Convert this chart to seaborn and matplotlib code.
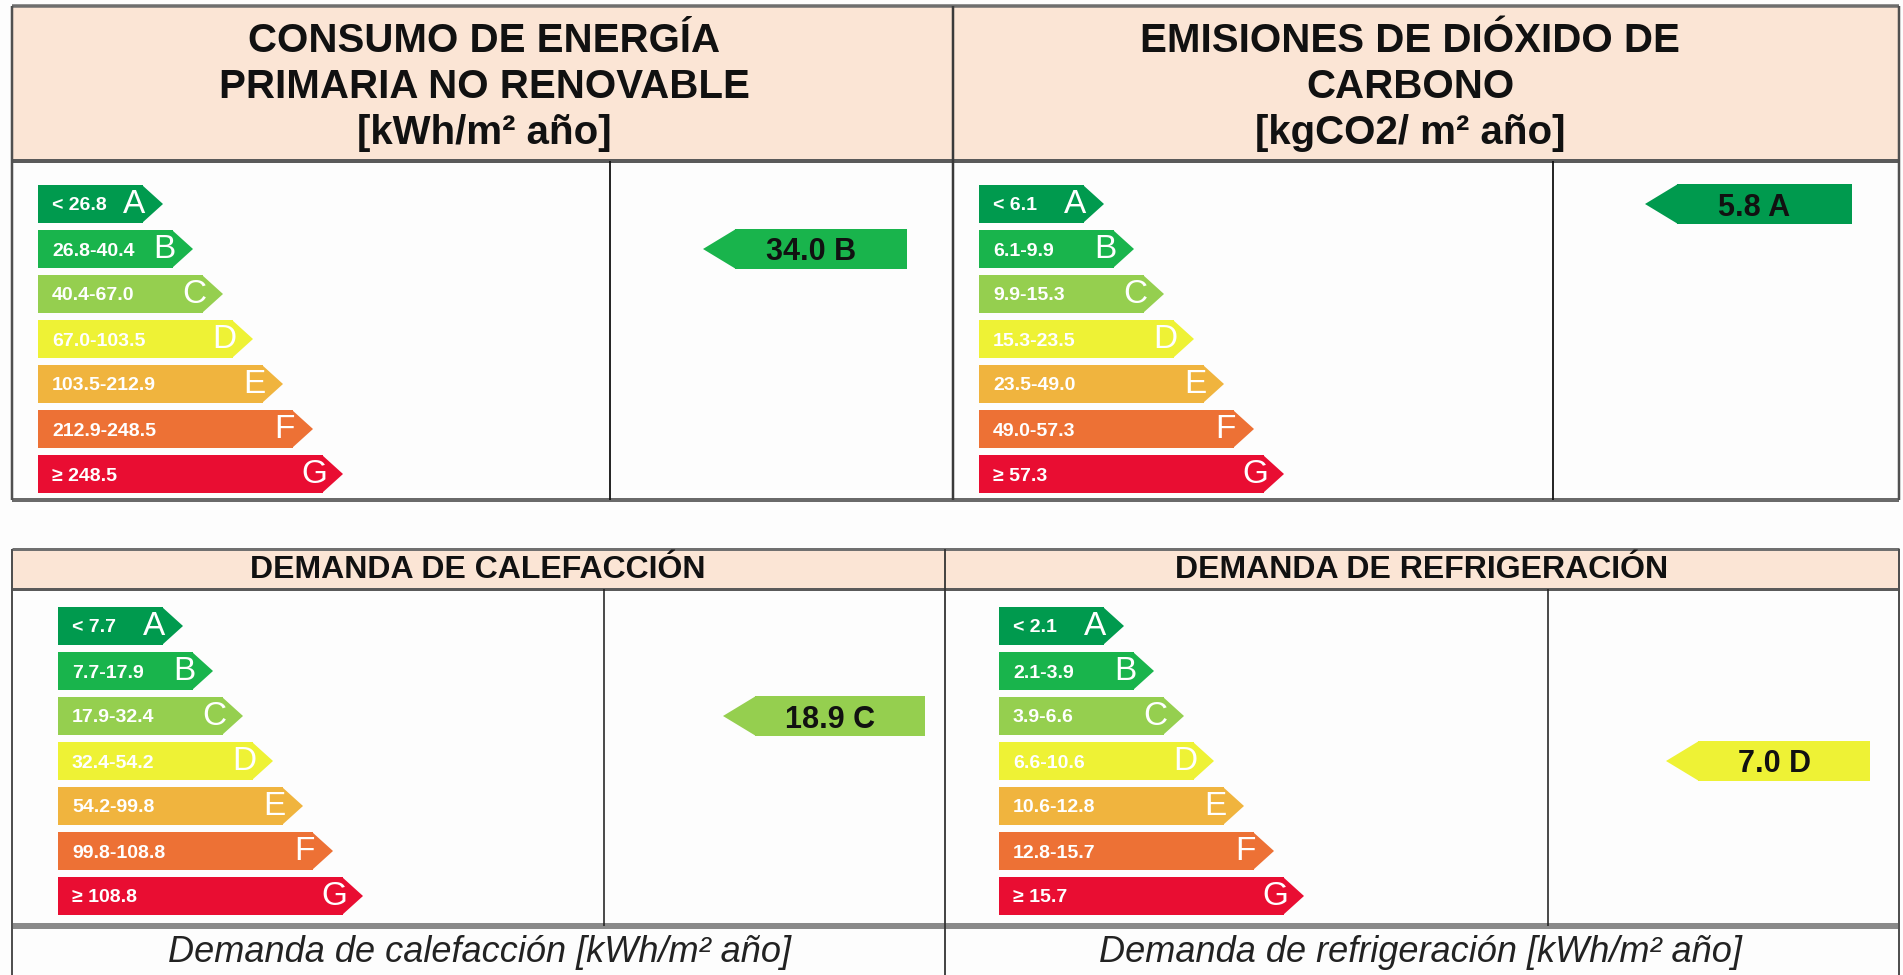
import matplotlib.pyplot as plt
from matplotlib.patches import Polygon, Rectangle
import pandas as pd
import seaborn as sns

sns.set_theme(style="white")
plt.rcParams["font.family"] = ["Liberation Sans", "DejaVu Sans"]

# energy classes and the usual label palette
classes = ["A", "B", "C", "D", "E", "F", "G"]
class_colors = ["#009a4e", "#19b44c", "#95cf4f", "#eef235", "#f0b43e", "#ed7135", "#e90d32"]

primary_ranges = ["< 26.8", "26.8-40.4", "40.4-67.0", "67.0-103.5", "103.5-212.9", "212.9-248.5", "≥ 248.5"]
co2_ranges = ["< 6.1", "6.1-9.9", "9.9-15.3", "15.3-23.5", "23.5-49.0", "49.0-57.3", "≥ 57.3"]
heating_ranges = ["< 7.7", "7.7-17.9", "17.9-32.4", "32.4-54.2", "54.2-99.8", "99.8-108.8", "≥ 108.8"]
cooling_ranges = ["< 2.1", "2.1-3.9", "3.9-6.6", "6.6-10.6", "10.6-12.8", "12.8-15.7", "≥ 15.7"]

primary_value, primary_class = 34.0, "B"
co2_value, co2_class = 5.8, "A"
heating_value, heating_class = 18.9, "C"
cooling_value, cooling_class = 7.0, "D"

title_primary = "CONSUMO DE ENERGÍA\nPRIMARIA NO RENOVABLE\n[kWh/m² año]"
title_co2 = "EMISIONES DE DIÓXIDO DE\nCARBONO\n[kgCO2/ m² año]"
title_heating = "DEMANDA DE CALEFACCIÓN"
title_cooling = "DEMANDA DE REFRIGERACIÓN"
footer_heating = "Demanda de calefacción [kWh/m² año]"
footer_cooling = "Demanda de refrigeración [kWh/m² año]"

W, H = 1903, 975
HEADER_BG = "#fbe5d5"

fig = plt.figure(figsize=(W / 100, H / 100), dpi=100, facecolor="#fdfdfd")
bg = fig.add_axes([0, 0, 1, 1])
bg.set_xlim(0, W)
bg.set_ylim(H, 0)
bg.axis("off")


def hline(y, x0, x1, px, color):
    bg.plot([x0, x1], [y, y], lw=px * 0.72, color=color, solid_capstyle="butt")


def vline(x, y0, y1, px, color):
    bg.plot([x, x], [y0, y1], lw=px * 0.72, color=color, solid_capstyle="butt")


# table frames
bg.add_patch(Rectangle((12, 6), 1887, 155, facecolor=HEADER_BG, lw=0))
bg.add_patch(Rectangle((12, 549), 1887, 40, facecolor=HEADER_BG, lw=0))

hline(6, 12, 1899, 3.5, "#6e6e6e")
hline(161, 12, 1899, 4, "#5a5a5a")
hline(500, 12, 1899, 4, "#6a6a6a")
vline(12, 6, 500, 2.5, "#505050")
vline(1899, 6, 500, 2.5, "#505050")
vline(953, 6, 500, 2.5, "#3a3a3a")
vline(610, 161, 500, 1.8, "#111111")
vline(1553, 161, 500, 1.8, "#111111")

hline(549, 12, 1899, 3, "#707070")
hline(589, 12, 1899, 3, "#5a5a5a")
hline(926, 12, 1899, 6, "#8a8a8a")
vline(12, 549, 975, 2, "#505050")
vline(1899, 549, 975, 2, "#505050")
vline(945, 549, 975, 1.8, "#333333")
vline(604, 589, 926, 1.6, "#222222")
vline(1548, 589, 926, 1.6, "#222222")

bg.text(484, 87, title_primary, ha="center", va="center", fontsize=29, fontweight="bold",
        linespacing=1.27, color="#111111")
bg.text(1410, 87, title_co2, ha="center", va="center", fontsize=29, fontweight="bold",
        linespacing=1.27, color="#111111")
bg.text(478, 570, title_heating, ha="center", va="center", fontsize=23, fontweight="bold", color="#111111")
bg.text(1422, 570, title_cooling, ha="center", va="center", fontsize=23, fontweight="bold", color="#111111")
bg.text(479, 953, footer_heating, ha="center", va="center", fontsize=26, style="italic", color="#222222")
bg.text(1420, 953, footer_cooling, ha="center", va="center", fontsize=26, style="italic", color="#222222")


def draw_panel(x0, row_top, tip_x, end_x, ranges, value, rating):
    row_h, bar_h, val_h = 45, 38, 40
    right = end_x + 10
    top = row_top - (row_h - bar_h) / 2
    bottom = top + row_h * len(classes)
    ax = fig.add_axes([x0 / W, 1 - bottom / H, (right - x0) / W, (bottom - top) / H])
    ax.set_facecolor("none")

    df = pd.DataFrame({"cls": classes, "length": [105 + 30 * i for i in range(len(classes))]})
    sns.barplot(data=df, x="length", y="cls", hue="cls", palette=class_colors, orient="h",
                width=bar_h / row_h, saturation=1, linewidth=0, legend=False, ax=ax)

    for i, (cls, rng) in enumerate(zip(classes, ranges)):
        w = df["length"][i]
        h = bar_h / row_h
        ax.add_patch(Polygon([(w - 1, i - h / 2), (w + 20, i), (w - 1, i + h / 2)],
                             facecolor=class_colors[i], lw=0))
        ax.text(14, i, rng, color="white", fontsize=14, fontweight="bold",
                ha="left", va="center_baseline")
        ax.text(w - 9, i + 0.02, cls, color="white", fontsize=24, ha="center", va="center")

    # pointer with the building's rating
    k = classes.index(rating)
    vh = val_h / row_h
    tip, end = tip_x - x0, end_x - x0
    neck = tip + 32
    ax.barh(k, end - neck, left=neck, height=vh, color=class_colors[k], linewidth=0)
    ax.add_patch(Polygon([(neck + 1, k - vh / 2), (tip, k), (neck + 1, k + vh / 2)],
                         facecolor=class_colors[k], lw=0))
    ax.text((tip + end) / 2 + 6, k, f"{value:.1f} {rating}", color="#111111", fontsize=22,
            fontweight="bold", ha="center", va="center_baseline")

    ax.set_xlim(0, right - x0)
    ax.set_ylim(len(classes) - 0.5, -0.5)
    ax.axis("off")


draw_panel(38, 185, 703, 907, primary_ranges, primary_value, primary_class)
draw_panel(979, 185, 1645, 1852, co2_ranges, co2_value, co2_class)
draw_panel(58, 607, 723, 925, heating_ranges, heating_value, heating_class)
draw_panel(999, 607, 1666, 1870, cooling_ranges, cooling_value, cooling_class)

fig.savefig("out.png", dpi=100, facecolor=fig.get_facecolor())
